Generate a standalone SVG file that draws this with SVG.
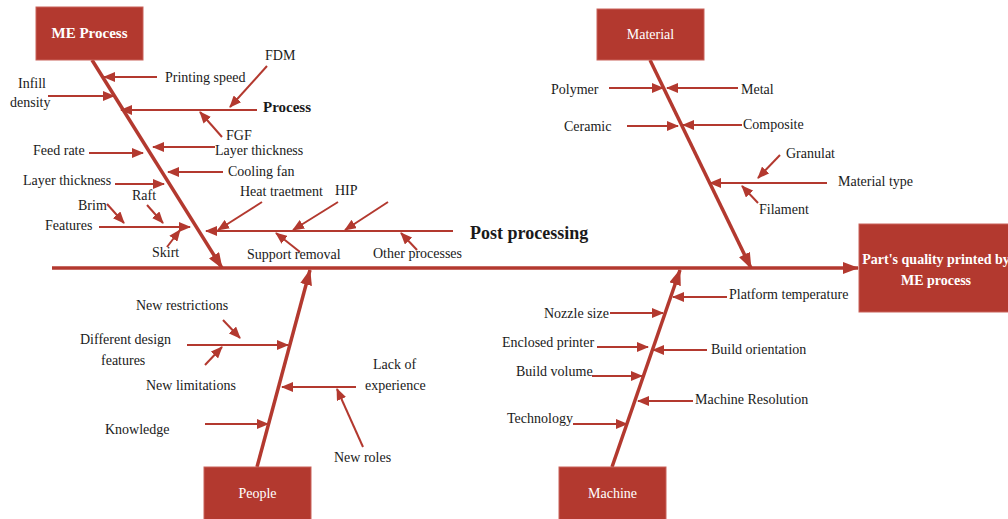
<svg xmlns="http://www.w3.org/2000/svg" width="1008" height="519" viewBox="0 0 1008 519">
  <defs>
    <marker id="ah" markerUnits="userSpaceOnUse" markerWidth="12" markerHeight="10" viewBox="0 0 12 10" refX="11" refY="5" orient="auto">
      <path d="M0,0 L12,5 L0,10 Z" fill="#b3392f"/>
    </marker>
    <marker id="ahBig" markerUnits="userSpaceOnUse" markerWidth="16" markerHeight="12" viewBox="0 0 16 12" refX="15" refY="6" orient="auto">
      <path d="M0,0 L16,6 L0,12 Z" fill="#b3392f"/>
    </marker>
    <style>
      .box { fill: #b3392f; stroke: #c9625a; stroke-width: 1; }
      .boxText { font-family: "Liberation Serif", "Times New Roman", serif; font-size: 14px; fill: #ffffff; text-anchor: middle; }
      .lbl { font-family: "Liberation Serif", "Times New Roman", serif; font-size: 14px; fill: #1a1a1a; }
      .bone { stroke: #b3392f; stroke-width: 3.5; fill: none; marker-end: url(#ahBig); }
      .rib { stroke: #b3392f; stroke-width: 2; fill: none; marker-end: url(#ah); }
    </style>
  </defs>

  <!-- Connectors: spine, category bones and causes -->
  <g id="connectors">
    <line class="bone" x1="52" y1="268" x2="858" y2="268"/>
    <line class="bone" x1="92" y1="60" x2="222" y2="268"/>
    <line class="bone" x1="650" y1="60" x2="751" y2="268"/>
    <line class="bone" x1="257" y1="467" x2="310" y2="270"/>
    <line class="bone" x1="612" y1="467" x2="680" y2="270"/>

    <!-- ME Process causes -->
    <line class="rib" x1="157" y1="77" x2="104" y2="77"/>
    <line class="rib" x1="48" y1="96" x2="114" y2="96"/>
    <line class="rib" x1="257" y1="110" x2="121" y2="110"/>
    <line class="rib" x1="267" y1="66" x2="230" y2="107"/>
    <line class="rib" x1="222" y1="137" x2="200" y2="112"/>
    <line class="rib" x1="215" y1="147" x2="153" y2="147"/>
    <line class="rib" x1="89" y1="153" x2="143" y2="153"/>
    <line class="rib" x1="223" y1="172" x2="168" y2="172"/>
    <line class="rib" x1="115" y1="184" x2="164" y2="184"/>
    <line class="rib" x1="147" y1="205" x2="163" y2="223"/>
    <line class="rib" x1="107" y1="204" x2="124" y2="223"/>
    <line class="rib" x1="99" y1="227" x2="190" y2="227"/>
    <line class="rib" x1="167" y1="247" x2="180" y2="230"/>

    <!-- Post processing -->
    <line class="rib" x1="453" y1="231" x2="206" y2="231"/>
    <line class="rib" x1="262" y1="202" x2="218" y2="230"/>
    <line class="rib" x1="338" y1="202" x2="293" y2="230"/>
    <line class="rib" x1="388" y1="202" x2="345" y2="230"/>
    <line class="rib" x1="300" y1="252" x2="276" y2="233"/>
    <line class="rib" x1="417" y1="250" x2="401" y2="233"/>

    <!-- Material causes -->
    <line class="rib" x1="609" y1="88" x2="663" y2="88"/>
    <line class="rib" x1="738" y1="88" x2="667" y2="88"/>
    <line class="rib" x1="627" y1="126" x2="678" y2="126"/>
    <line class="rib" x1="742" y1="125" x2="683" y2="125"/>
    <line class="rib" x1="827" y1="183" x2="710" y2="183"/>
    <line class="rib" x1="780" y1="155" x2="758" y2="178"/>
    <line class="rib" x1="758" y1="203" x2="742" y2="186"/>

    <!-- People causes -->
    <line class="rib" x1="223" y1="320" x2="240" y2="338"/>
    <line class="rib" x1="187" y1="345" x2="288" y2="345"/>
    <line class="rib" x1="205" y1="365" x2="222" y2="347"/>
    <line class="rib" x1="356" y1="387" x2="282" y2="387"/>
    <line class="rib" x1="363" y1="447" x2="337" y2="389"/>
    <line class="rib" x1="205" y1="424" x2="268" y2="424"/>

    <!-- Machine causes -->
    <line class="rib" x1="727" y1="297" x2="673" y2="297"/>
    <line class="rib" x1="610" y1="313" x2="663" y2="313"/>
    <line class="rib" x1="597" y1="347" x2="648" y2="347"/>
    <line class="rib" x1="707" y1="350" x2="653" y2="350"/>
    <line class="rib" x1="592" y1="376" x2="642" y2="376"/>
    <line class="rib" x1="693" y1="401" x2="638" y2="401"/>
    <line class="rib" x1="573" y1="424" x2="627" y2="424"/>
  </g>

  <!-- Category and effect boxes -->
  <g id="me-process">
    <rect class="box" x="36" y="7" width="107" height="53"/>
    <text class="boxText" x="89.5" y="38" style="font-weight:bold;font-size:15px">ME Process</text>
  </g>
  <g id="material">
    <rect class="box" x="597" y="9" width="107" height="51"/>
    <text class="boxText" x="650.5" y="39">Material</text>
  </g>
  <g id="people">
    <rect class="box" x="204" y="467" width="107" height="56"/>
    <text class="boxText" x="257.5" y="498">People</text>
  </g>
  <g id="machine">
    <rect class="box" x="559" y="467" width="107" height="56"/>
    <text class="boxText" x="612.5" y="498">Machine</text>
  </g>
  <g id="effect">
    <rect class="box" x="859" y="224" width="155" height="88"/>
    <text class="boxText" x="936" y="264" style="font-weight:bold">Part's quality printed by</text>
    <text class="boxText" x="936" y="285" style="font-weight:bold">ME process</text>
  </g>

  <!-- Cause labels -->
  <g id="me-process-causes">
    <text class="lbl" x="165" y="82">Printing speed</text>
    <text class="lbl" x="18" y="88">Infill</text>
    <text class="lbl" x="10" y="107">density</text>
    <text class="lbl" x="265" y="60">FDM</text>
    <text class="lbl" x="263" y="112" style="font-weight:bold;font-size:15px">Process</text>
    <text class="lbl" x="226" y="140">FGF</text>
    <text class="lbl" x="215" y="155">Layer thickness</text>
    <text class="lbl" x="33" y="155">Feed rate</text>
    <text class="lbl" x="228" y="176">Cooling fan</text>
    <text class="lbl" x="23" y="185">Layer thickness</text>
    <text class="lbl" x="132" y="200">Raft</text>
    <text class="lbl" x="78" y="210">Brim</text>
    <text class="lbl" x="45" y="230">Features</text>
    <text class="lbl" x="152" y="257">Skirt</text>
  </g>
  <g id="post-processing">
    <text class="lbl" x="470" y="239" style="font-weight:bold;font-size:18px">Post processing</text>
    <text class="lbl" x="240" y="196">Heat traetment</text>
    <text class="lbl" x="335" y="195">HIP</text>
    <text class="lbl" x="247" y="259">Support removal</text>
    <text class="lbl" x="373" y="258">Other processes</text>
  </g>
  <g id="material-causes">
    <text class="lbl" x="551" y="94">Polymer</text>
    <text class="lbl" x="741" y="94">Metal</text>
    <text class="lbl" x="564" y="131">Ceramic</text>
    <text class="lbl" x="743" y="129">Composite</text>
    <text class="lbl" x="786" y="158">Granulat</text>
    <text class="lbl" x="838" y="186">Material type</text>
    <text class="lbl" x="759" y="214">Filament</text>
  </g>
  <g id="people-causes">
    <text class="lbl" x="136" y="310">New restrictions</text>
    <text class="lbl" x="80" y="344">Different design</text>
    <text class="lbl" x="101" y="365">features</text>
    <text class="lbl" x="146" y="390">New limitations</text>
    <text class="lbl" x="373" y="369">Lack of</text>
    <text class="lbl" x="365" y="390">experience</text>
    <text class="lbl" x="105" y="434">Knowledge</text>
    <text class="lbl" x="334" y="462">New roles</text>
  </g>
  <g id="machine-causes">
    <text class="lbl" x="729" y="299">Platform temperature</text>
    <text class="lbl" x="544" y="318">Nozzle size</text>
    <text class="lbl" x="502" y="347">Enclosed printer</text>
    <text class="lbl" x="711" y="354">Build orientation</text>
    <text class="lbl" x="516" y="376">Build volume</text>
    <text class="lbl" x="695" y="404">Machine Resolution</text>
    <text class="lbl" x="507" y="423">Technology</text>
  </g>
</svg>
